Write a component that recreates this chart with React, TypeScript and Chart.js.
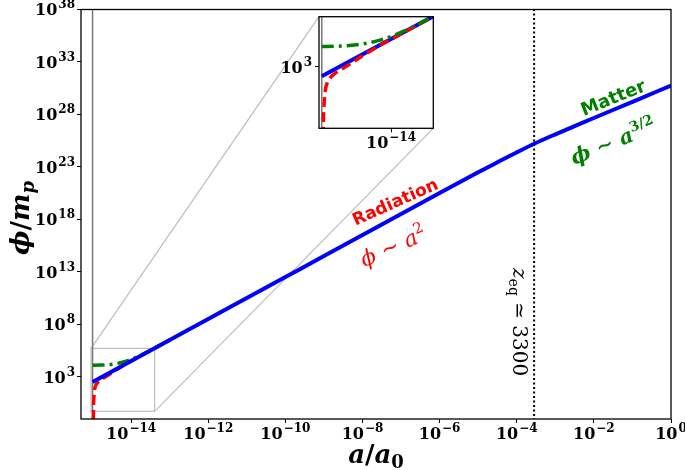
import React, { useEffect, useRef } from 'react';
import { Chart, registerables } from 'chart.js';

Chart.register(...registerables);

// ---------- data (log10 values) ----------
const BLUE_LOGA = [-15, -14, -13, -12, -11, -10, -9, -8, -7, -6, -5, -4.5, -4, -3.55, -3, -2.5, -2, -1, 0];
const BLUE_LOGPHI = [2.5, 4.5, 6.5, 8.5, 10.5, 12.5, 14.5, 16.5, 18.5, 20.5, 22.48, 23.45, 24.38, 25.2, 26.1, 26.88, 27.66, 29.2, 30.75];

const RED_LOGA = [-14.985, -14.978, -14.97, -14.964, -14.955, -14.943, -14.92, -14.88, -14.82, -14.76, -14.68, -14.6, -14.5, -14.4, -14.3, -14.2, -14.0, -13.8, -13.6, -13.4, -13.2, -13.0];
const RED_LOGPHI = [-4, -0.3, 0.7, 1.13, 1.55, 1.87, 2.15, 2.4, 2.62, 2.78, 2.95, 3.14, 3.38, 3.63, 3.86, 4.08, 4.49, 4.89, 5.29, 5.69, 6.09, 6.49];

const GREEN_LOGA = [-15, -14.8, -14.6, -14.4, -14.2, -14.0, -13.8, -13.6, -13.4, -13.2, -13.0];
const GREEN_LOGPHI = [4.1, 4.11, 4.15, 4.24, 4.4, 4.64, 4.95, 5.32, 5.71, 6.1, 6.5];

const A_MIN_LOG = -15;      // grey vertical line
const A_EQ_LOG = -3.55;     // z_eq ~ 3300

const X_TICK_EXP = [-14, -12, -10, -8, -6, -4, -2, 0];
const Y_TICK_EXP = [3, 8, 13, 18, 23, 28, 33, 38];
const INSET_X_TICK_EXP = [-14];
const INSET_Y_TICK_EXP = [3];

const MAIN_X_RANGE = [-15.3, 0];
const MAIN_Y_RANGE = [-1.03, 38];
const INSET_X_RANGE = [-15.04, -13.39];
const INSET_Y_RANGE = [-0.3, 5.7];

// annotation anchors (log10 data coordinates)
const RAD_TITLE_POS = [-7.16, 19.7];
const RAD_LAW_POS = [-7.2, 15.4];
const MAT_TITLE_POS = [-1.5, 29.6];
const MAT_LAW_POS = [-1.5, 25.4];
const ZEQ_POS = [-3.92, 8.2];

// ---------- styling ----------
const INSET_POS = { left: 260, top: 0, width: 190, height: 155 };
const TICK_FONT = "bold 16px 'DejaVu Serif', serif";
const SUP_FONT = "bold 12px 'DejaVu Serif', serif";

type Seg = { t: string; font: string; dy?: number; dx?: number };

function drawRich(
  ctx: CanvasRenderingContext2D,
  segs: Seg[],
  x: number,
  y: number,
  opts: { angle?: number; color?: string; align?: 'left' | 'center' | 'right'; shift?: number } = {}
) {
  const { angle = 0, color = '#000', align = 'center', shift = 0 } = opts;
  ctx.save();
  ctx.translate(x, y);
  ctx.rotate((angle * Math.PI) / 180);
  ctx.fillStyle = color;
  ctx.textBaseline = 'alphabetic';
  ctx.textAlign = 'left';
  let w = 0;
  const ws = segs.map((s) => {
    ctx.font = s.font;
    const m = ctx.measureText(s.t).width + (s.dx ?? 0);
    w += m;
    return m;
  });
  let cx = align === 'center' ? -w / 2 : align === 'right' ? -w : 0;
  segs.forEach((s, i) => {
    ctx.font = s.font;
    ctx.fillText(s.t, cx + (s.dx ?? 0), shift + (s.dy ?? 0));
    cx += ws[i];
  });
  ctx.restore();
}

function expLabel(e: number): Seg[] {
  return [
    { t: '10', font: TICK_FONT },
    { t: (e < 0 ? '\u2212' : '') + Math.abs(e), font: SUP_FONT, dy: -7, dx: 1 },
  ];
}

const pts = (lx: number[], ly: number[]) => lx.map((v, i) => ({ x: 10 ** v, y: 10 ** ly[i] }));

function lineDs(data: any[], color: string, width: number, order: number, dash: number[] = [], smooth = false) {
  return {
    data,
    borderColor: color,
    backgroundColor: color,
    borderWidth: width,
    borderDash: dash,
    pointRadius: 0,
    pointHoverRadius: 0,
    fill: false,
    tension: smooth ? 0.4 : 0,
    cubicInterpolationMode: smooth ? 'monotone' : 'default',
    order,
    clip: 0,
  };
}

function axisCommon(range: number[], tickExp: number[], fit: (s: any) => void) {
  return {
    type: 'logarithmic' as const,
    min: 10 ** range[0],
    max: 10 ** range[1],
    afterBuildTicks: (scale: any) => {
      scale.ticks = tickExp.map((e) => ({ value: 10 ** e }));
    },
    afterFit: fit,
    ticks: { display: false, autoSkip: false },
    grid: { display: true, drawOnChartArea: false, drawTicks: true, tickLength: 4, color: '#000', lineWidth: 1 },
    border: { display: false },
  };
}

export default function App() {
  const mainRef = useRef<HTMLCanvasElement>(null);
  const insetRef = useRef<HTMLCanvasElement>(null);

  useEffect(() => {
    const yLine = (lx: number, yr: number[]) => pts([lx, lx], [yr[0] - 1, yr[1] + 1]);

    // ---------- inset ----------
    const inset = new Chart(insetRef.current!, {
      type: 'line',
      data: {
        datasets: [
          lineDs(pts(GREEN_LOGA, GREEN_LOGPHI), '#008000', 3.5, 0, [12, 5, 3, 5], true),
          lineDs(pts(RED_LOGA, RED_LOGPHI), '#ff0000', 3.5, 1, [10, 5], true),
          lineDs(pts(BLUE_LOGA, BLUE_LOGPHI), '#0000ff', 4, 2, [], true),
          lineDs(yLine(A_MIN_LOG, INSET_Y_RANGE), '#777777', 1.5, 3),
        ] as any,
      },
      options: {
        responsive: false,
        devicePixelRatio: 1,
        animation: false,
        events: [],
        layout: { padding: { left: 59, top: 16.7, right: 16.7, bottom: 26.7 } },
        plugins: { legend: { display: false }, tooltip: { enabled: false } },
        scales: {
          x: axisCommon(INSET_X_RANGE, INSET_X_TICK_EXP, (s: any) => { s.height = 0; }),
          y: axisCommon(INSET_Y_RANGE, INSET_Y_TICK_EXP, (s: any) => { s.width = 0; }),
        } as any,
      },
      plugins: [
        {
          id: 'insetDecor',
          beforeDatasetsDraw(chart: any) {
            const { ctx, chartArea: a } = chart;
            ctx.save();
            ctx.fillStyle = '#ffffff';
            ctx.fillRect(a.left, a.top, a.right - a.left, a.bottom - a.top);
            ctx.restore();
          },
          afterDraw(chart: any) {
            const { ctx, chartArea: a } = chart;
            const xs = chart.scales.x, ys = chart.scales.y;
            ctx.save();
            ctx.strokeStyle = '#000';
            ctx.lineWidth = 1.3;
            ctx.strokeRect(a.left, a.top, a.right - a.left, a.bottom - a.top);
            ctx.restore();
            INSET_X_TICK_EXP.forEach((e) => {
              drawRich(ctx, expLabel(e), xs.getPixelForValue(10 ** e), a.bottom + 19.5, { align: 'center' });
            });
            INSET_Y_TICK_EXP.forEach((e) => {
              drawRich(ctx, expLabel(e), a.left - 7, ys.getPixelForValue(10 ** e) + 5.8, { align: 'right' });
            });
          },
        },
      ],
    } as any);

    // ---------- main ----------
    const main = new Chart(mainRef.current!, {
      type: 'line',
      data: {
        datasets: [
          lineDs(pts(BLUE_LOGA, BLUE_LOGPHI), '#0000ff', 4, 0, [], true),
          lineDs(pts(GREEN_LOGA, GREEN_LOGPHI), '#008000', 3.5, 1, [12, 5, 3, 5], true),
          lineDs(pts(RED_LOGA, RED_LOGPHI), '#ff0000', 3.5, 2, [10, 5], true),
          lineDs(yLine(A_EQ_LOG, MAIN_Y_RANGE), '#000000', 2, 3, [2, 2.5]),
          lineDs(yLine(A_MIN_LOG, MAIN_Y_RANGE), '#777777', 1.5, 4),
        ] as any,
      },
      options: {
        responsive: false,
        devicePixelRatio: 1,
        animation: false,
        events: [],
        layout: { padding: { left: 0, top: 9.5, right: 14, bottom: 0 } },
        plugins: { legend: { display: false }, tooltip: { enabled: false } },
        scales: {
          x: axisCommon(MAIN_X_RANGE, X_TICK_EXP, (s: any) => { s.height = 51; }),
          y: axisCommon(MAIN_Y_RANGE, Y_TICK_EXP, (s: any) => { s.width = 81; }),
        } as any,
      },
      plugins: [
        {
          id: 'mainDecor',
          beforeDatasetsDraw(chart: any) {
            const ctx = chart.ctx;
            const xs = chart.scales.x, ys = chart.scales.y;
            const bx0 = xs.getPixelForValue(10 ** INSET_X_RANGE[0]);
            const bx1 = xs.getPixelForValue(10 ** INSET_X_RANGE[1]);
            const by0 = ys.getPixelForValue(10 ** INSET_Y_RANGE[1]);
            const by1 = ys.getPixelForValue(10 ** INSET_Y_RANGE[0]);
            const ia = inset.chartArea;
            ctx.save();
            ctx.strokeStyle = '#bdbdbd';
            ctx.lineWidth = 1.2;
            ctx.strokeRect(bx0, by0, bx1 - bx0, by1 - by0);
            ctx.beginPath();
            ctx.moveTo(bx0, by0);
            ctx.lineTo(INSET_POS.left + ia.left, INSET_POS.top + ia.top);
            ctx.moveTo(bx1, by1);
            ctx.lineTo(INSET_POS.left + ia.right, INSET_POS.top + ia.bottom);
            ctx.stroke();
            ctx.restore();
          },
          afterDraw(chart: any) {
            const { ctx, chartArea: a } = chart;
            const xs = chart.scales.x, ys = chart.scales.y;
            const px = (p: number[]) => [xs.getPixelForValue(10 ** p[0]), ys.getPixelForValue(10 ** p[1])];
            ctx.save();
            ctx.strokeStyle = '#000';
            ctx.lineWidth = 1.3;
            ctx.strokeRect(a.left, a.top, a.right - a.left, a.bottom - a.top);
            ctx.restore();

            X_TICK_EXP.forEach((e) => {
              drawRich(ctx, expLabel(e), xs.getPixelForValue(10 ** e), a.bottom + 20, { align: 'center' });
            });
            Y_TICK_EXP.forEach((e) => {
              drawRich(ctx, expLabel(e), a.left - 6, ys.getPixelForValue(10 ** e) + 5.8, { align: 'right' });
            });

            // axis titles
            drawRich(
              ctx,
              [
                { t: '\u03D5', font: "bold italic 26px 'DejaVu Serif', serif" },
                { t: '/', font: "bold 26px 'DejaVu Serif', serif" },
                { t: 'm', font: "bold italic 26px 'DejaVu Serif', serif" },
                { t: 'p', font: "bold italic 18px 'DejaVu Serif', serif", dy: 5 },
              ],
              20, 218, { angle: -90, shift: 9 }
            );
            drawRich(
              ctx,
              [
                { t: 'a', font: "bold italic 26px 'DejaVu Serif', serif" },
                { t: '/', font: "bold 26px 'DejaVu Serif', serif" },
                { t: 'a', font: "bold italic 26px 'DejaVu Serif', serif" },
                { t: '0', font: "bold 18px 'DejaVu Serif', serif", dy: 5 },
              ],
              (a.left + a.right) / 2, 463, {}
            );

            // annotations
            let p = px(RAD_TITLE_POS);
            drawRich(ctx, [{ t: 'Radiation', font: "bold 17px 'DejaVu Sans', sans-serif" }], p[0], p[1], { angle: -24, color: '#ff0000', shift: 6 });
            p = px(RAD_LAW_POS);
            drawRich(
              ctx,
              [
                { t: '\u03D5', font: "italic 22px 'DejaVu Serif', serif" },
                { t: ' \u223C ', font: "22px 'DejaVu Serif', serif" },
                { t: 'a', font: "italic 22px 'DejaVu Serif', serif" },
                { t: '2', font: "15px 'DejaVu Serif', serif", dy: -9 },
              ],
              p[0], p[1], { angle: -24, color: '#ff0000', shift: 7 }
            );
            p = px(MAT_TITLE_POS);
            drawRich(ctx, [{ t: 'Matter', font: "bold 18px 'DejaVu Sans', sans-serif" }], p[0], p[1], { angle: -22, color: '#008000', shift: 6 });
            p = px(MAT_LAW_POS);
            drawRich(
              ctx,
              [
                { t: '\u03D5', font: "bold italic 21px 'DejaVu Serif', serif" },
                { t: ' \u223C ', font: "bold 21px 'DejaVu Serif', serif" },
                { t: 'a', font: "bold italic 21px 'DejaVu Serif', serif" },
                { t: '3/2', font: "bold 14px 'DejaVu Serif', serif", dy: -9 },
              ],
              p[0], p[1], { angle: -22, color: '#008000', shift: 7 }
            );
            p = px(ZEQ_POS);
            drawRich(
              ctx,
              [
                { t: 'z', font: "italic 20px 'DejaVu Serif', serif" },
                { t: 'eq', font: "14px 'DejaVu Serif', serif", dy: 4 },
                { t: ' \u2243 3300', font: "20px 'DejaVu Serif', serif" },
              ],
              p[0], p[1], { angle: 90, shift: 7 }
            );
          },
        },
      ],
    } as any);

    return () => {
      main.destroy();
      inset.destroy();
    };
  }, []);

  return (
    <div>
      <canvas
        ref={mainRef}
        width={685}
        height={470}
        style={{ position: 'fixed', left: 0, top: 0, width: 685, height: 470 }}
      />
      <canvas
        ref={insetRef}
        width={INSET_POS.width}
        height={INSET_POS.height}
        style={{ position: 'fixed', left: INSET_POS.left, top: INSET_POS.top, width: INSET_POS.width, height: INSET_POS.height }}
      />
    </div>
  );
}
